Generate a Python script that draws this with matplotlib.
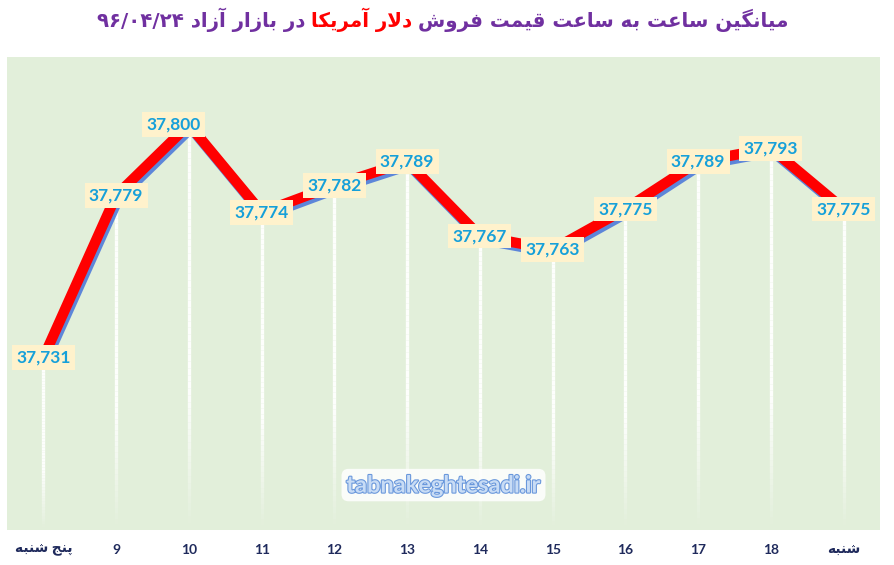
import numpy as np
import matplotlib
matplotlib.use('Agg')
import matplotlib.pyplot as plt
import matplotlib.patheffects as pe
from matplotlib.collections import LineCollection

# data
categories = ['پنج شنبه', '9', '10', '11', '12', '13', '14', '15', '16', '17', '18', 'شنبه']
prices = [37731, 37779, 37800, 37774, 37782, 37789, 37767, 37763, 37775, 37789, 37793, 37775]
label_dx = [0, 0, -15, 0, 0, 0, 0, 0, 0, 0, 0, 0]  # px shift of the data labels

title_a = 'میانگین ساعت به ساعت قیمت فروش'
title_b = 'دلار آمریکا'
title_c = 'در بازار آزاد ۹۶/۰۴/۲۴'
watermark = 'tabnakeghtesadi.ir'

# --- tiny persian shaper (matplotlib has no rtl / joining) ---
FORMS = {
    'ا': (0xFE8D, 0xFE8E), 'آ': (0xFE81, 0xFE82), 'د': (0xFEA9, 0xFEAA),
    'ذ': (0xFEAB, 0xFEAC), 'ر': (0xFEAD, 0xFEAE), 'ز': (0xFEAF, 0xFEB0),
    'ژ': (0xFB8A, 0xFB8B), 'و': (0xFEED, 0xFEEE),
    'لا': (0xFEFB, 0xFEFC), 'لآ': (0xFEF5, 0xFEF6),
    'ب': (0xFE8F, 0xFE90, 0xFE91, 0xFE92), 'پ': (0xFB56, 0xFB57, 0xFB58, 0xFB59),
    'ت': (0xFE95, 0xFE96, 0xFE97, 0xFE98), 'ث': (0xFE99, 0xFE9A, 0xFE9B, 0xFE9C),
    'ج': (0xFE9D, 0xFE9E, 0xFE9F, 0xFEA0), 'چ': (0xFB7A, 0xFB7B, 0xFB7C, 0xFB7D),
    'ح': (0xFEA1, 0xFEA2, 0xFEA3, 0xFEA4), 'خ': (0xFEA5, 0xFEA6, 0xFEA7, 0xFEA8),
    'س': (0xFEB1, 0xFEB2, 0xFEB3, 0xFEB4), 'ش': (0xFEB5, 0xFEB6, 0xFEB7, 0xFEB8),
    'ص': (0xFEB9, 0xFEBA, 0xFEBB, 0xFEBC), 'ض': (0xFEBD, 0xFEBE, 0xFEBF, 0xFEC0),
    'ط': (0xFEC1, 0xFEC2, 0xFEC3, 0xFEC4), 'ظ': (0xFEC5, 0xFEC6, 0xFEC7, 0xFEC8),
    'ع': (0xFEC9, 0xFECA, 0xFECB, 0xFECC), 'غ': (0xFECD, 0xFECE, 0xFECF, 0xFED0),
    'ف': (0xFED1, 0xFED2, 0xFED3, 0xFED4), 'ق': (0xFED5, 0xFED6, 0xFED7, 0xFED8),
    'ک': (0xFB8E, 0xFB8F, 0xFB90, 0xFB91), 'گ': (0xFB92, 0xFB93, 0xFB94, 0xFB95),
    'ل': (0xFEDD, 0xFEDE, 0xFEDF, 0xFEE0), 'م': (0xFEE1, 0xFEE2, 0xFEE3, 0xFEE4),
    'ن': (0xFEE5, 0xFEE6, 0xFEE7, 0xFEE8), 'ه': (0xFEE9, 0xFEEA, 0xFEEB, 0xFEEC),
    'ی': (0xFBFC, 0xFBFD, 0xFBFE, 0xFBFF),
}


def shape_word(w):
    toks = []
    i = 0
    while i < len(w):
        if w[i] == 'ل' and i + 1 < len(w) and w[i + 1] in 'اآ':
            toks.append(w[i:i + 2])
            i += 2
        else:
            toks.append(w[i])
            i += 1
    if not any(t in FORMS for t in toks):
        return w
    out = []
    for k, t in enumerate(toks):
        f = FORMS.get(t)
        if f is None:
            out.append(t)
            continue
        prev = k > 0 and len(FORMS.get(toks[k - 1], ())) == 4
        nxt = len(f) == 4 and k + 1 < len(toks) and toks[k + 1] in FORMS
        if prev and nxt:
            c = f[3]
        elif prev:
            c = f[1]
        elif nxt:
            c = f[2]
        else:
            c = f[0]
        out.append(chr(c))
    return ''.join(out[::-1])


def rtl(s):
    return ' '.join(shape_word(w) for w in s.split(' ')[::-1])


W, H = 894, 565
fig = plt.figure(figsize=(W / 100, H / 100), dpi=100, facecolor='white')
ax = fig.add_axes([7 / W, 35 / H, 873 / W, 473 / H])
ax.set_facecolor('#E2EFDA')
for s in ax.spines.values():
    s.set_visible(False)

x = np.arange(len(prices))
ymin, ymax = 37680, 37820
ax.set_xlim(-0.5, len(prices) - 0.5)
ax.set_ylim(ymin, ymax)
ax.set_yticks([])

# drop lines, white fading out towards the axis
n = 60
for xi, v in zip(x, prices):
    ys = np.linspace(v, ymin, n + 1)
    segs = [[(xi, ys[j]), (xi, ys[j + 1])] for j in range(n)]
    t = np.linspace(0, 1, n)
    alpha = np.clip((1 - t) / 0.35, 0, 1) * 0.95
    cols = [(1, 1, 1, a) for a in alpha]
    ax.add_collection(LineCollection(segs, colors=cols, linewidths=2.4, zorder=2))

ax.plot(x, prices, color='#FF0000', lw=7.5, solid_joinstyle='miter', zorder=3,
        path_effects=[pe.SimpleLineShadow(offset=(1.5, -2.5), shadow_color='#4F7BD9', alpha=0.9),
                      pe.Normal()])

for xi, v, dx in zip(x, prices, label_dx):
    ax.annotate(f'{v:,}', (xi, v), xytext=(dx, 0), textcoords='offset pixels',
                ha='center', va='center', fontsize=12.5, fontweight='bold',
                family=['Lato', 'DejaVu Sans'], color='#17A0D9', zorder=5,
                bbox=dict(boxstyle='square,pad=0.25', facecolor='#FFF2CC', edgecolor='none'))

ax.set_xticks(x)
ax.set_xticklabels([rtl(c) for c in categories], fontsize=10, fontweight='bold',
                   family=['Lato', 'DejaVu Sans'], color='#1F2A5C')
ax.tick_params(axis='x', length=0, pad=10)

ax.text(0.5, 0.095, watermark, transform=ax.transAxes, ha='center', va='center',
        fontsize=17, fontweight='bold', family=['Lato'], color='#C8DCF5', zorder=6,
        path_effects=[pe.withStroke(linewidth=1.6, foreground='#6A98DC')],
        bbox=dict(boxstyle='round,pad=0.2,rounding_size=0.3', facecolor='white',
                  edgecolor='none', alpha=0.85))

# title in three colours, laid out right to left
tkw = dict(fontsize=14.2, fontweight='bold', family=['DejaVu Sans'], va='center')
pieces = [(rtl(title_c), '#7030A0'), (rtl(title_b), '#FF0000'), (rtl(title_a), '#7030A0')]
texts = [fig.text(0, 1 - 20 / H, s, color=c, ha='left', **tkw) for s, c in pieces]
fig.canvas.draw()
r = fig.canvas.get_renderer()
widths = [tx.get_window_extent(r).width for tx in texts]
gap = 6
total = sum(widths) + gap * (len(widths) - 1)
xpos = (W - total) / 2 - 4
for tx, w in zip(texts, widths):
    tx.set_x(xpos / W)
    xpos += w + gap

fig.savefig('out.png', dpi=100, facecolor='white')
